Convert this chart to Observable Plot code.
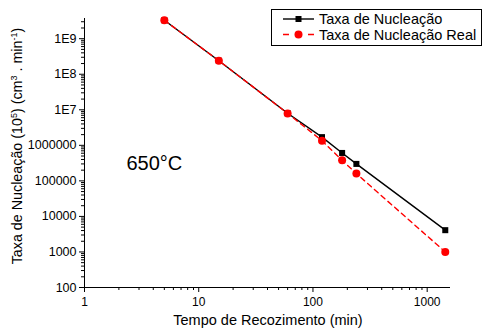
<!DOCTYPE html>
<html>
<head>
<meta charset="utf-8">
<script src="https://cdn.jsdelivr.net/npm/d3@7"></script>
<script src="https://cdn.jsdelivr.net/npm/@observablehq/plot@0.6"></script>
<style>
  body { margin: 0; background: #fff; }
  #chart { position: relative; width: 484px; height: 331px; }
</style>
</head>
<body>
<div id="chart"></div>
<script>
// ---- data ----
const times = [5, 15, 60, 120, 180, 240, 1440];
const taxa = [3.3e9, 2.4e8, 8.0e6, 1.7e6, 6.1e5, 3.0e5, 4.1e3];
const taxaReal = [3.3e9, 2.4e8, 7.9e6, 1.35e6, 3.8e5, 1.6e5, 1.0e3];
const xTicks = [1, 10, 100, 1000];
const xTickLabels = ["1", "10", "100", "1000"];
const yTicks = [100, 1e3, 1e4, 1e5, 1e6, 1e7, 1e8, 1e9];
const yTickLabels = ["100", "1000", "10000", "100000", "1000000", "1E7", "1E8", "1E9"];
const seriesNames = ["Taxa de Nucleação", "Taxa de Nucleação Real"];
const annotation = [{x: 2.33, y: 3.1e5, label: "650°C"}];

const xDomain = [1, 1600];
const yDomain = [100, 3.7e9];

const dataA = times.map((t, i) => ({t, v: taxa[i]}));
const dataB = times.map((t, i) => ({t, v: taxaReal[i]}));

const xMinor = d3.scaleLog().domain(xDomain).ticks().filter(d => !xTicks.includes(d));
const yMinor = d3.scaleLog().domain(yDomain).ticks().filter(d => !yTicks.includes(d));

const xLabel = d => xTickLabels[xTicks.indexOf(d)] ?? "";
const yLabel = d => yTickLabels[yTicks.indexOf(d)] ?? "";

const font = "'Liberation Sans', Arial, sans-serif";

const plot = Plot.plot({
  width: 484,
  height: 331,
  marginLeft: 84,
  marginRight: 34,
  marginTop: 18,
  marginBottom: 44,
  style: {fontFamily: font, color: "black", background: "white", overflow: "visible"},
  x: {type: "log", domain: xDomain},
  y: {type: "log", domain: yDomain},
  marks: [
    Plot.axisX({ticks: xMinor, tickSize: 3, tickFormat: () => "", label: null, strokeWidth: 1}),
    Plot.axisX({ticks: xTicks, tickSize: 5, tickPadding: 5, tickFormat: xLabel, label: null, fontSize: 12, strokeWidth: 1}),
    Plot.axisY({ticks: yMinor, tickSize: 3, tickFormat: () => "", label: null, strokeWidth: 1}),
    Plot.axisY({ticks: yTicks, tickSize: 5, tickPadding: 3, tickFormat: yLabel, label: null, fontSize: 12.5, strokeWidth: 1}),
    Plot.ruleY([yDomain[0]], {stroke: "black", strokeWidth: 1}),
    Plot.ruleX([xDomain[0]], {stroke: "black", strokeWidth: 1}),
    Plot.line(dataA, {x: "t", y: "v", stroke: "black", strokeWidth: 1.4}),
    Plot.line(dataB, {x: "t", y: "v", stroke: "#ff0000", strokeWidth: 1.4, strokeDasharray: "5,4"}),
    Plot.dot(dataA, {x: "t", y: "v", symbol: "square", r: 3.4, fill: "black", stroke: null}),
    Plot.dot(dataB, {x: "t", y: "v", symbol: "circle", r: 4, fill: "#ff0000", stroke: null}),
    Plot.text(annotation, {x: "x", y: "y", text: "label", textAnchor: "start", fontSize: 20, fill: "black"})
  ]
});

document.getElementById("chart").appendChild(plot);

const svg = d3.select(plot);

// axis titles
const yt = svg.append("text")
  .attr("transform", "translate(22,146) rotate(-90)")
  .attr("text-anchor", "middle")
  .attr("font-family", font)
  .attr("font-size", 14.3)
  .attr("fill", "black");
const parts = [["Taxa de Nucleação (10", false], ["5", true], [") (cm", false], ["3", true], [" . min", false], ["-1", true], [")", false]];
parts.forEach(([s, sup], i) => {
  const ts = yt.append("tspan").text(s);
  if (sup) ts.attr("font-size", 9).attr("dy", -5.5);
  else if (i > 0 && parts[i - 1][1]) ts.attr("dy", 5.5);
});

svg.append("text")
  .attr("x", 268).attr("y", 325)
  .attr("text-anchor", "middle")
  .attr("font-family", font)
  .attr("font-size", 14.5)
  .attr("fill", "black")
  .text("Tempo de Recozimento (min)");

// legend
const lg = svg.append("g").attr("font-family", font).attr("font-size", 14.5).attr("text-anchor", "start");
lg.append("rect").attr("x", 271.5).attr("y", 9.5).attr("width", 210).attr("height", 36)
  .attr("fill", "white").attr("stroke", "black").attr("stroke-width", 1);
lg.append("line").attr("x1", 283).attr("x2", 314).attr("y1", 19).attr("y2", 19)
  .attr("stroke", "black").attr("stroke-width", 1.4);
lg.append("rect").attr("x", 295.5).attr("y", 16).attr("width", 6).attr("height", 6).attr("fill", "black");
lg.append("text").attr("x", 319).attr("y", 24).attr("fill", "black").text(seriesNames[0]);
lg.append("line").attr("x1", 283).attr("x2", 314).attr("y1", 34.5).attr("y2", 34.5)
  .attr("stroke", "#ff0000").attr("stroke-width", 1.4).attr("stroke-dasharray", "6,19");
lg.append("circle").attr("cx", 298.5).attr("cy", 34.5).attr("r", 4).attr("fill", "#ff0000");
lg.append("text").attr("x", 319).attr("y", 39.5).attr("fill", "black").text(seriesNames[1]);
</script>
</body>
</html>
